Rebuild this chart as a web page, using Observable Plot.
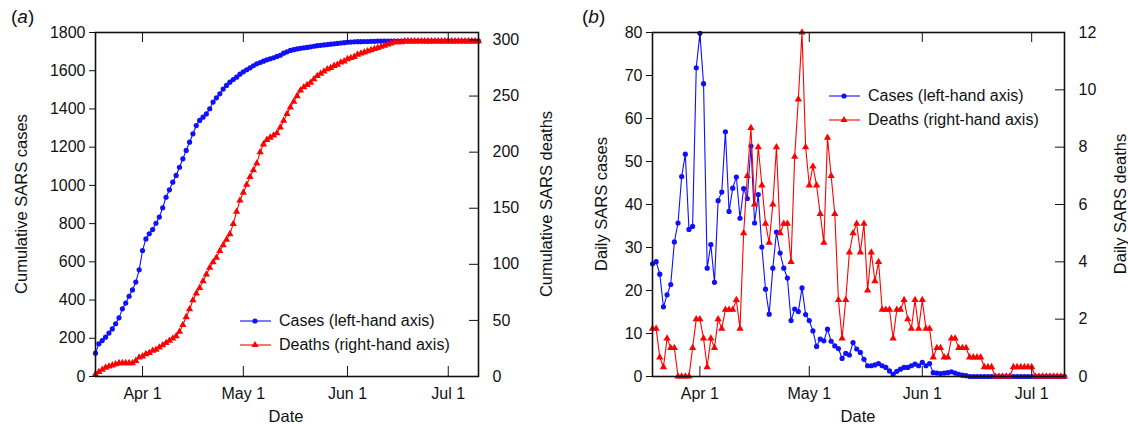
<!DOCTYPE html>
<html><head><meta charset="utf-8">
<script src="https://cdn.jsdelivr.net/npm/d3@7"></script>
<script src="https://cdn.jsdelivr.net/npm/@observablehq/plot@0.6"></script>
<style>
body{margin:0;background:#fff;font-family:"Liberation Sans",Arial,Helvetica,sans-serif;color:#111;}
#wrap{position:relative;width:1128px;height:428px;overflow:hidden;}
.panel{position:absolute;top:0;}
.tag{position:absolute;font-size:19px;}
.ylab{position:absolute;font-size:16.5px;white-space:nowrap;transform:translate(-50%,-50%) rotate(-90deg);}
.xlab{position:absolute;font-size:16.5px;white-space:nowrap;transform:translate(-50%,-50%);}
.leg{position:absolute;font-size:16px;white-space:nowrap;display:flex;align-items:center;transform:translateY(-50%);}
.leg svg{margin-right:8px;}
</style></head><body><div id="wrap"></div>
<script>
// ---- data (panel a: cumulative, from 18 Mar 2003; panel b: daily 3-day averages, from 19 Mar 2003)
const cumStart = "2003-03-18";
const cumCases = [122,171,188,206,227,249,276,307,354,384,420,453,494,558,659,720,747,769,802,834,
  883,938,977,1017,1052,1095,1139,1183,1226,1270,1313,1340,1357,1374,1401,1436,1458,1479,1504,1523,
  1540,1554,1566,1582,1594,1605,1615,1626,1636,1643,1650,1657,1662,1668,1675,1681,1692,1699,1706,1710,
  1714,1717,1720,1722,1725,1728,1731,1733,1735,1737,1739,1741,1743,1745,1747,1749,1750,1751,1752,1752,
  1753,1753,1754,1754,1755,1755,1755,1755,1755,1755,1755,1755,1755,1755,1755,1755,1755,1755,1755,1755,
  1755,1755,1755,1755,1755,1755,1755,1755,1755,1755,1755,1755,1755,1755,1755];
const cumDeaths = [2,4,6,8,9,10,11,12,12,12,12,12,14,17,18,20,21,23,24,26,
  28,30,32,34,36,40,46,53,60,68,74,79,85,91,97,102,106,112,117,122,
  127,136,147,157,164,171,178,184,190,200,207,211,213,215,217,222,228,234,240,245,
  250,255,258,260,262,265,268,270,272,274,275,277,278,280,281,283,284,285,287,288,
  289,290,291,292,293,294,295,296,297,298,298,298,299,299,299,299,299,299,299,299,
  299,299,299,299,299,299,299,299,299,299,299,299,299,299,299];
const dailyStart = "2003-03-19";
const dailyCases = [26.2,26.7,23.8,16.2,19.0,21.4,31.3,35.7,46.5,51.7,34.2,34.9,71.8,79.8,68.1,25.2,30.7,21.9,40.9,42.9,
  56.9,38.4,43.8,46.4,36.8,43.7,41.4,53.6,35.7,42.3,30.1,20.3,14.5,25.2,33.6,28.7,25.2,22.9,13.0,15.7,
  15.1,20.6,14.4,13.0,10.6,7.0,8.7,8.3,11.0,8.2,7.1,6.5,4.2,5.4,5.0,7.9,6.4,5.6,4.0,2.5,
  2.5,2.7,3.0,2.5,2.1,1.3,0.5,1.2,1.7,2.1,2.1,2.5,2.9,2.5,3.3,2.5,3.0,0.9,0.8,0.7,
  0.8,0.9,1.1,0.8,0.5,0.3,0.2,0,0,0,0,0,0,0,0,0,0,0,0,0,
  0,0,0,0,0,0,0,0,0,0,0,0,0,0];
const dailyDeaths = [1.67,1.67,0.67,0.33,1.33,1,1,0,0,0,0,1,2,2,1.33,0.33,1.33,1,2,1.67,
  2.33,2.33,2.33,2.67,1.67,5,7,8.67,6,8,6.67,5.33,4.67,6,8,5,5.33,5.33,4,7.67,
  9.67,12,8,6.67,7.33,6.67,5.67,4.67,8.33,7,5.67,2.67,1.33,2.67,4.33,5,5.33,4.33,5.33,3,
  4.33,3.33,4,2.33,2.33,2.33,1.33,2.33,2.33,2.67,2,1.67,2.67,1.67,2.67,1.67,1.67,0.67,1,1,
  0.67,0.67,1.33,1.33,1,1,1,0.67,0.67,0.67,0.67,0.33,0.33,0.33,0,0,0,0,0,0.33,
  0.33,0.33,0.33,0.33,0.33,0,0,0,0,0,0,0,0,0];
const dateTicks = ["2003-04-01","2003-05-01","2003-06-01","2003-07-01"];
const casesTicksA = [0,200,400,600,800,1000,1200,1400,1600,1800];
const deathsTicksA = [0,50,100,150,200,250,300];
const casesTicksB = [0,10,20,30,40,50,60,70,80];
const deathsTicksB = [0,2,4,6,8,10,12];
const legendLabels = ["Cases (left-hand axis)", "Deaths (right-hand axis)"];

// ---- build
const BLUE = "#1010ff", RED = "#ff0000";
const toRows = (start, cases, deaths) => cases.map((c, i) => ({
  date: d3.utcDay.offset(new Date(start + "T00:00Z"), i), cases: c, deaths: deaths[i]}));
const rowsA = toRows(cumStart, cumCases, cumDeaths);
const rowsB = toRows(dailyStart, dailyCases, dailyDeaths);
const ticksX = dateTicks.map(d => new Date(d + "T00:00Z"));

function panel({rows, ml, mr, yMax, y2Max, yTicks, y2Ticks}) {
  const W = 564, H = 428, mt = 32, mb = 52;
  const pw = W - ml - mr, ph = H - mt - mb;
  const k = yMax / y2Max;
  return Plot.plot({
    width: W, height: H, marginLeft: ml, marginRight: mr, marginTop: mt, marginBottom: mb,
    style: {fontFamily: "Liberation Sans, Arial, sans-serif", fontSize: "16px", color: "#111", background: "white"},
    x: {type: "utc", domain: d3.extent(rows, d => d.date)},
    y: {domain: [0, yMax]},
    marks: [
      Plot.line(rows, {x: "date", y: "cases", stroke: BLUE, strokeWidth: 1.1}),
      Plot.dot(rows, {x: "date", y: "cases", fill: BLUE, r: 2.6}),
      Plot.line(rows, {x: "date", y: d => d.deaths * k, stroke: RED, strokeWidth: 1.1}),
      Plot.dot(rows, {x: "date", y: d => d.deaths * k, fill: RED, symbol: "triangle", r: 2.7}),
      Plot.frame({stroke: "#111", strokeWidth: 1.6}),
      // inward date ticks, bottom and top
      Plot.ruleX(ticksX, {x: d => d, stroke: "#111", strokeWidth: 1, insetTop: ph - 10}),
      Plot.ruleX(ticksX, {x: d => d, stroke: "#111", strokeWidth: 1, insetBottom: ph - 10}),
      // inward right-axis ticks
      Plot.ruleY(y2Ticks.map(t => t * k), {y: d => d, stroke: "#111", strokeWidth: 1, insetLeft: pw - 9}),
      Plot.axisX(ticksX, {tickSize: 0, tickPadding: 11, tickFormat: d3.utcFormat("%b %-d"), label: null}),
      Plot.axisY(yTicks, {anchor: "left", tickSize: 6, tickPadding: 4, tickFormat: d => String(d), label: null, stroke: "#111"}),
      Plot.axisY(y2Ticks.map(t => t * k), {anchor: "right", tickSize: 0, tickPadding: 14,
        tickFormat: v => String(Math.round(v / k)), label: null})
    ]
  });
}

const wrap = document.getElementById("wrap");
function place(node, left) { node.classList.add("panel"); node.style.left = left + "px"; wrap.appendChild(node); }
place(panel({rows: rowsA, ml: 95, mr: 86, yMax: 1800, y2Max: 299 * 1800 / 1755, yTicks: casesTicksA, y2Ticks: deathsTicksA}), 0);
place(panel({rows: rowsB, ml: 88, mr: 64, yMax: 80, y2Max: 12, yTicks: casesTicksB, y2Ticks: deathsTicksB}), 564);

function html(cls, text, x, y) {
  const d = document.createElement("div"); d.className = cls; d.textContent = text;
  d.style.left = x + "px"; d.style.top = y + "px"; wrap.appendChild(d); return d;
}
const tagA = html("tag", "", 11, 6); tagA.innerHTML = "(<i>a</i>)";
const tagB = html("tag", "", 582, 6); tagB.innerHTML = "(<i>b</i>)";
html("ylab", "Cumulative SARS cases", 21, 204);
html("ylab", "Cumulative SARS deaths", 546, 204);
html("ylab", "Daily SARS cases", 601, 204);
html("ylab", "Daily SARS deaths", 1120, 204);
html("xlab", "Date", 286, 416);
html("xlab", "Date", 858, 416);

function legend(x, y0, gap) {
  [[BLUE, "circle"], [RED, "triangle"]].forEach(([c, sym], i) => {
    const d = document.createElement("div"); d.className = "leg";
    d.style.left = x + "px"; d.style.top = (y0 + i * gap) + "px";
    const mk = sym === "circle" ? `<circle cx="15" cy="6" r="2.6" fill="${c}"/>`
      : `<path d="${d3.symbol(d3.symbolTriangle, 22)()}" transform="translate(15,6)" fill="${c}"/>`;
    d.innerHTML = `<svg width="31" height="12"><line x1="0" x2="31" y1="6" y2="6" stroke="${c}" stroke-width="1.1"/>${mk}</svg>`;
    const s = document.createElement("span"); s.textContent = legendLabels[i]; d.appendChild(s);
    wrap.appendChild(d);
  });
}
legend(240, 321, 24);
legend(829, 96, 24);
</script></body></html>
